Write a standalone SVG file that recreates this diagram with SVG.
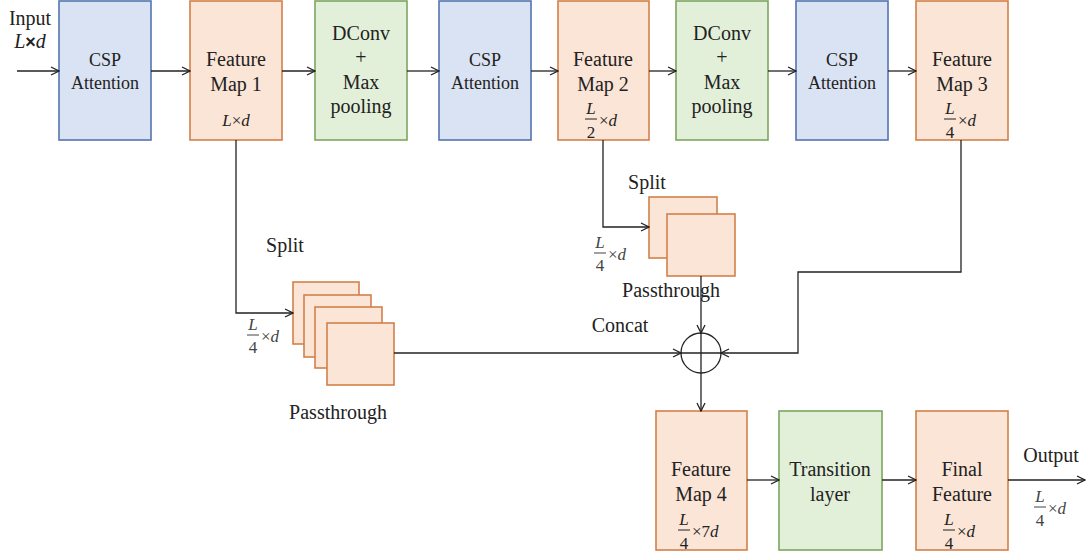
<svg xmlns="http://www.w3.org/2000/svg" width="1086" height="556" viewBox="0 0 1086 556">
<defs>
<marker id="ah" viewBox="0 0 10 10" refX="9" refY="5" markerWidth="10" markerHeight="10" markerUnits="userSpaceOnUse" orient="auto">
<path d="M1,1 L9,5 L1,9" fill="none" stroke="#222" stroke-width="1.3"/>
</marker>
<style>
.blue{fill:#dae3f3;stroke:#5475ad;stroke-width:1.6}
.orange{fill:#fbe5d6;stroke:#d2804a;stroke-width:1.6}
.green{fill:#e2f0d9;stroke:#7ea55f;stroke-width:1.6}
text{font-family:"Liberation Serif","Times New Roman",serif;fill:#222}
.big{font-size:20px;text-anchor:middle}
.mid{font-size:18px;text-anchor:middle}
.fr{font-size:17px}
.it{font-style:italic}
.gr{fill:#444}
.ln{fill:none;stroke:#222;stroke-width:1.3}
</style>
</defs>

<g id="input-label">
<text x="30" y="25" class="big">Input</text>
<text x="30" y="48" class="big"><tspan class="it">L</tspan><tspan font-family="'Liberation Sans',Arial,sans-serif" font-weight="bold" font-size="18">×</tspan><tspan class="it">d</tspan></text>
</g>

<g id="csp1"><rect x="59" y="1" width="92" height="139" class="blue"/>
<text x="105" y="66" class="mid">CSP</text><text x="105" y="89" class="mid">Attention</text></g>

<g id="fm1"><rect x="190" y="1" width="92" height="139" class="orange"/>
<text x="236" y="66" class="big">Feature</text><text x="236" y="91" class="big">Map 1</text>
<text x="236" y="126" class="fr" text-anchor="middle"><tspan class="it">L</tspan>×<tspan class="it">d</tspan></text></g>

<g id="dconv1"><rect x="315" y="1" width="92" height="139" class="green"/>
<text x="361" y="40" class="big">DConv</text><text x="361" y="64" class="big">+</text>
<text x="361" y="89" class="big">Max</text><text x="361" y="113" class="big">pooling</text></g>

<g id="csp2"><rect x="439" y="1" width="92" height="139" class="blue"/>
<text x="485" y="66" class="mid">CSP</text><text x="485" y="89" class="mid">Attention</text></g>

<g id="fm2"><rect x="558" y="1" width="91" height="139" class="orange"/>
<text x="603" y="66" class="big">Feature</text><text x="603" y="91" class="big">Map 2</text>
<text x="591" y="114" class="fr it" text-anchor="middle">L</text>
<line x1="585" y1="119" x2="597" y2="119" stroke="#222" stroke-width="1"/>
<text x="591" y="138" class="fr" text-anchor="middle">2</text>
<text x="599" y="126" class="fr">×<tspan class="it">d</tspan></text></g>

<g id="dconv2"><rect x="676" y="1" width="92" height="139" class="green"/>
<text x="722" y="40" class="big">DConv</text><text x="722" y="64" class="big">+</text>
<text x="722" y="89" class="big">Max</text><text x="722" y="113" class="big">pooling</text></g>

<g id="csp3"><rect x="796" y="1" width="92" height="139" class="blue"/>
<text x="842" y="66" class="mid">CSP</text><text x="842" y="89" class="mid">Attention</text></g>

<g id="fm3"><rect x="916" y="1" width="92" height="139" class="orange"/>
<text x="962" y="66" class="big">Feature</text><text x="962" y="91" class="big">Map 3</text>
<text x="950" y="114" class="fr it" text-anchor="middle">L</text>
<line x1="944" y1="119" x2="956" y2="119" stroke="#222" stroke-width="1"/>
<text x="950" y="138" class="fr" text-anchor="middle">4</text>
<text x="958" y="126" class="fr">×<tspan class="it">d</tspan></text></g>

<g id="split1">
<rect x="293" y="282" width="66" height="62" class="orange"/>
<rect x="304" y="295" width="67" height="62" class="orange"/>
<rect x="315" y="307" width="67" height="61" class="orange"/>
<rect x="327" y="323" width="67" height="62" class="orange"/>
<text x="285" y="252" class="big">Split</text>
<text x="338" y="419" class="big">Passthrough</text>
<text x="253" y="330" class="fr it gr" text-anchor="middle">L</text>
<line x1="247" y1="335" x2="259" y2="335" stroke="#444" stroke-width="1"/>
<text x="253" y="353" class="fr gr" text-anchor="middle">4</text>
<text x="261" y="342" class="fr gr">×<tspan class="it">d</tspan></text>
</g>

<g id="split2">
<rect x="649" y="197" width="68" height="61" class="orange"/>
<rect x="667" y="214" width="68" height="62" class="orange"/>
<text x="647" y="189" class="big">Split</text>
<text x="671" y="297" class="big">Passthrough</text>
<text x="600" y="248" class="fr it gr" text-anchor="middle">L</text>
<line x1="594" y1="253" x2="606" y2="253" stroke="#444" stroke-width="1"/>
<text x="600" y="271" class="fr gr" text-anchor="middle">4</text>
<text x="608" y="260" class="fr gr">×<tspan class="it">d</tspan></text>
</g>

<g id="concat">
<circle cx="701" cy="353" r="20" fill="none" stroke="#222" stroke-width="1.3"/>
<line x1="681" y1="353" x2="721" y2="353" stroke="#222" stroke-width="1.3"/>
<line x1="701" y1="333" x2="701" y2="373" stroke="#222" stroke-width="1.3"/>
<text x="620" y="332" class="big">Concat</text>
</g>

<g id="fm4"><rect x="656" y="411" width="91" height="139" class="orange"/>
<text x="701" y="476" class="big">Feature</text><text x="701" y="501" class="big">Map 4</text>
<text x="684" y="525" class="fr it" text-anchor="middle">L</text>
<line x1="678" y1="530" x2="690" y2="530" stroke="#222" stroke-width="1"/>
<text x="684" y="549" class="fr" text-anchor="middle">4</text>
<text x="692" y="537" class="fr">×7<tspan class="it">d</tspan></text></g>

<g id="transition"><rect x="779" y="411" width="103" height="139" class="green"/>
<text x="830" y="476" class="big">Transition</text><text x="830" y="501" class="big">layer</text></g>

<g id="final"><rect x="916" y="411" width="92" height="139" class="orange"/>
<text x="962" y="476" class="big">Final</text><text x="962" y="501" class="big">Feature</text>
<text x="949" y="525" class="fr it" text-anchor="middle">L</text>
<line x1="943" y1="530" x2="955" y2="530" stroke="#222" stroke-width="1"/>
<text x="949" y="549" class="fr" text-anchor="middle">4</text>
<text x="957" y="537" class="fr">×<tspan class="it">d</tspan></text></g>

<g id="output-label">
<text x="1051" y="462" class="big">Output</text>
<text x="1040" y="502" class="fr it gr" text-anchor="middle">L</text>
<line x1="1034" y1="507" x2="1046" y2="507" stroke="#444" stroke-width="1"/>
<text x="1040" y="526" class="fr gr" text-anchor="middle">4</text>
<text x="1048" y="514" class="fr gr">×<tspan class="it">d</tspan></text>
</g>

<g id="connectors">
<line x1="17" y1="71" x2="59" y2="71" class="ln" marker-end="url(#ah)"/>
<line x1="151" y1="71" x2="190" y2="71" class="ln" marker-end="url(#ah)"/>
<line x1="282" y1="71" x2="315" y2="71" class="ln" marker-end="url(#ah)"/>
<line x1="407" y1="71" x2="439" y2="71" class="ln" marker-end="url(#ah)"/>
<line x1="531" y1="71" x2="558" y2="71" class="ln" marker-end="url(#ah)"/>
<line x1="649" y1="71" x2="676" y2="71" class="ln" marker-end="url(#ah)"/>
<line x1="768" y1="71" x2="796" y2="71" class="ln" marker-end="url(#ah)"/>
<line x1="888" y1="71" x2="916" y2="71" class="ln" marker-end="url(#ah)"/>
<polyline points="236,140 236,313 293,313" class="ln" marker-end="url(#ah)"/>
<polyline points="603,140 603,227 649,227" class="ln" marker-end="url(#ah)"/>
<line x1="394" y1="353" x2="681" y2="353" class="ln" marker-end="url(#ah)"/>
<line x1="701" y1="276" x2="701" y2="333" class="ln" marker-end="url(#ah)"/>
<polyline points="961,140 961,272 798,272 798,353 721,353" class="ln" marker-end="url(#ah)"/>
<line x1="701" y1="373" x2="701" y2="411" class="ln" marker-end="url(#ah)"/>
<line x1="747" y1="480" x2="779" y2="480" class="ln" marker-end="url(#ah)"/>
<line x1="882" y1="480" x2="916" y2="480" class="ln" marker-end="url(#ah)"/>
<line x1="1008" y1="480" x2="1085" y2="480" class="ln" marker-end="url(#ah)"/>
</g>
</svg>
